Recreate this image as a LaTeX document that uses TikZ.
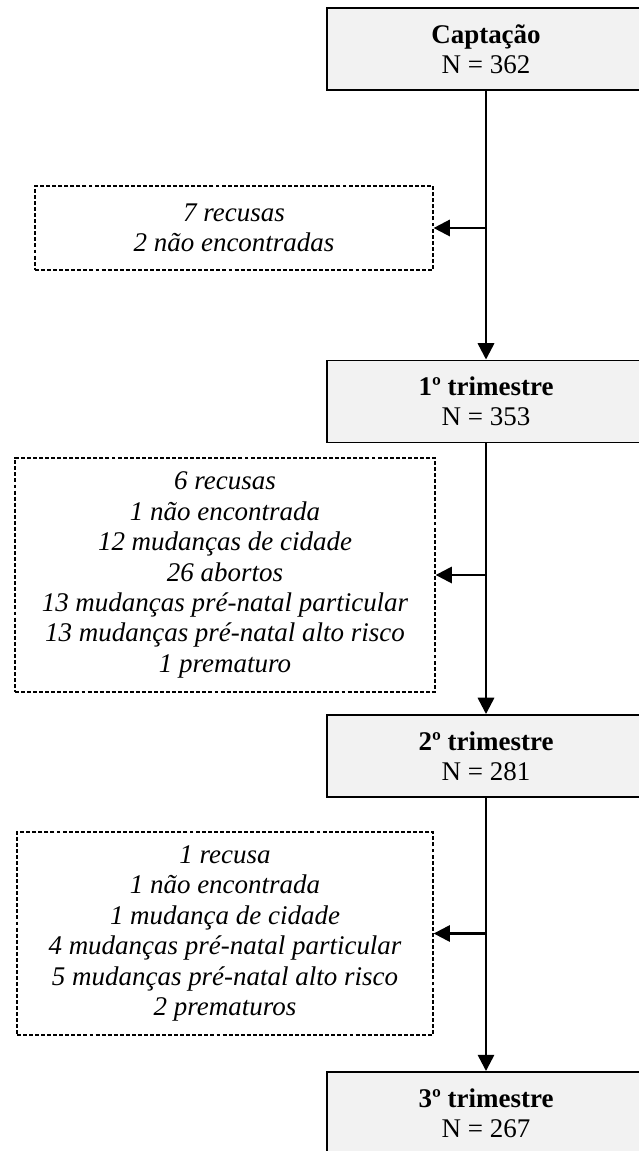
\documentclass[tikz,border=0pt]{standalone}
\usepackage{fontspec}
\setmainfont{Liberation Serif}
\usetikzlibrary{arrows.meta}
\definecolor{boxgray}{HTML}{F2F2F2}
\tikzset{
	stage/.style={draw, fill=boxgray, line width=0.8pt, minimum width=136.7pt, minimum height=35.3pt, align=center, inner sep=0pt, font=\fontsize{11.6}{13.1}\selectfont},
	loss/.style={draw, dash pattern=on 1.7pt off 0.9pt, line width=0.55pt, align=center, inner sep=0pt, font=\fontsize{11.6}{13.1}\selectfont\itshape},
	flow/.style={line width=1.05pt, -{Triangle[length=7pt,width=7pt]}}
}
\begin{document}
\begin{tikzpicture}[x=0.43pt,y=-0.43pt]
		\useasboundingbox (0,0) rectangle (638,1151);

		\node[stage] (capt) at (486,49) {\textbf{Captação}\\N = 362};
		\node[stage] (tri1) at (486,401.5) {\textbf{1º trimestre}\\N = 353};
		\node[stage] (tri2) at (486,756) {\textbf{2º trimestre}\\N = 281};
		\node[stage] (tri3) at (486,1113) {\textbf{3º trimestre}\\N = 267};

		\node[loss, minimum width=171.1pt, minimum height=36.1pt] (perda1) at (234,228) {7 recusas\\2 não encontradas};
		\node[loss, minimum width=180.6pt, minimum height=100.6pt] (perda2) at (225,575) {6 recusas\\1 não encontrada\\12 mudanças de cidade\\26 abortos\\13 mudanças pré-natal particular\\13 mudanças pré-natal alto risco\\1 prematuro};
		\node[loss, minimum width=178.9pt, minimum height=87.3pt] (perda3) at (225,933.5) {1 recusa\\1 não encontrada\\1 mudança de cidade\\4 mudanças pré-natal particular\\5 mudanças pré-natal alto risco\\2 prematuros};

		\draw[flow] (capt) -- (tri1);
		\draw[flow] (tri1) -- (tri2);
		\draw[flow] (tri2) -- (tri3);

		\draw[flow] (capt.south |- perda1.east) -- (perda1.east);
		\draw[flow] (tri1.south |- perda2.east) -- (perda2.east);
		\draw[flow] (tri2.south |- perda3.east) -- (perda3.east);
	\end{tikzpicture}
\end{document}
